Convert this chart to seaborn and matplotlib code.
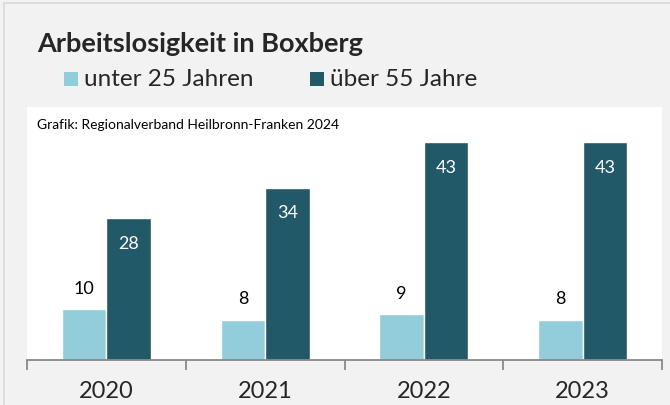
import pandas as pd
import seaborn as sns
import matplotlib.pyplot as plt
from matplotlib.patches import Rectangle

# Data
years = ['2020', '2021', '2022', '2023']
under_25 = [10, 8, 9, 8]
over_55 = [28, 34, 43, 43]
series_names = ['unter 25 Jahren', 'über 55 Jahre']
colors = ['#92CDDC', '#215968']

df = pd.DataFrame({
    'Jahr': years * 2,
    'Anzahl': under_25 + over_55,
    'Gruppe': [series_names[0]] * len(years) + [series_names[1]] * len(years),
})

sns.set_style('white')
plt.rcParams['font.family'] = ['Lato', 'DejaVu Sans']

fig = plt.figure(figsize=(6.7, 4.05), dpi=100, facecolor='#F2F2F2')
# outer chart border (cropped at right/bottom in reference)
fig.patches.append(Rectangle((4 / 670, -0.1), 1.2, (405 - 3) / 405 + 0.1,
                             transform=fig.transFigure, facecolor='none',
                             edgecolor='#D9D9D9', linewidth=1.2))

ax = fig.add_axes([27 / 670, 45 / 405, 635 / 670, 253 / 405])
sns.barplot(data=df, x='Jahr', y='Anzahl', hue='Gruppe', palette=colors,
            width=0.56, saturation=1, legend=False, ax=ax)

ax.set_ylim(0, 50)
ax.set_xlim(-0.5, len(years) - 0.5)
ax.set_facecolor('white')
for side in ['top', 'right', 'left']:
    ax.spines[side].set_visible(False)
ax.spines['bottom'].set_color('#898989')
ax.spines['bottom'].set_linewidth(1.3)
ax.set_yticks([])
ax.set_xlabel('')
ax.set_ylabel('')

# category boundary ticks
ax.set_xticks([i - 0.5 for i in range(len(years) + 1)], minor=True)
ax.tick_params(axis='x', which='minor', bottom=True, length=7, width=1.3,
               color='#898989', direction='out')
ax.tick_params(axis='x', which='major', length=0, pad=15, labelsize=17)

# value labels
ax.bar_label(ax.containers[0], padding=9, fontsize=13, color='black')
ax.bar_label(ax.containers[1], padding=-24, fontsize=13, color='white')

ax.text(10 / 635, 0.93, 'Grafik: Regionalverband Heilbronn-Franken 2024',
        transform=ax.transAxes, fontsize=10, color='black', va='center')

fig.text(37 / 670, 1 - 44 / 405, 'Arbeitslosigkeit in Boxberg',
         fontsize=19.5, fontweight='bold', va='center')

# legend
for i, name in enumerate(series_names):
    x0 = [64, 310][i]
    fig.patches.append(Rectangle((x0 / 670, 1 - 86 / 405), 14 / 670, 14 / 405,
                                 transform=fig.transFigure, facecolor=colors[i],
                                 edgecolor='none'))
    fig.text((x0 + 20) / 670, 1 - 79 / 405, name, fontsize=17.5, va='center')

fig.savefig('out.png', dpi=100, facecolor=fig.get_facecolor())
